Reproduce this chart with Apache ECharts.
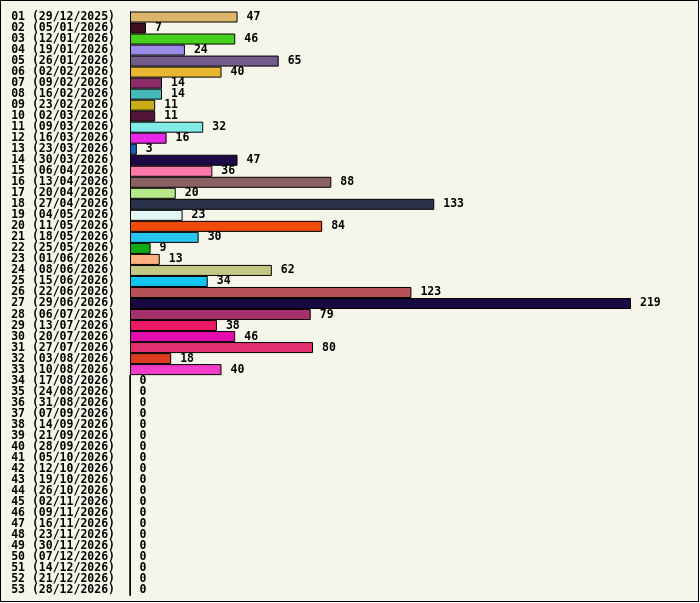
<!DOCTYPE html>
<html lang="en">
<head>
    <meta charset="UTF-8">
    <script src="https://cdn.jsdelivr.net/npm/echarts@6/dist/echarts.min.js"></script>
    <title>weeks</title>
    <style>
        body { margin: 0; background: #ffffff; }
        #frame { width: 699px; height: 602px; box-sizing: border-box; border: 1px solid #000; background: #f5f5e9; }
        #container { width: 697px; height: 600px; }
    </style>
</head>
<body>
<div id="frame"><div id="container"></div></div>

<script>
    // week labels (number + monday date)
    var weeks = [
        '01 (29/12/2025)', '02 (05/01/2026)', '03 (12/01/2026)', '04 (19/01/2026)', '05 (26/01/2026)',
        '06 (02/02/2026)', '07 (09/02/2026)', '08 (16/02/2026)', '09 (23/02/2026)', '10 (02/03/2026)',
        '11 (09/03/2026)', '12 (16/03/2026)', '13 (23/03/2026)', '14 (30/03/2026)', '15 (06/04/2026)',
        '16 (13/04/2026)', '17 (20/04/2026)', '18 (27/04/2026)', '19 (04/05/2026)', '20 (11/05/2026)',
        '21 (18/05/2026)', '22 (25/05/2026)', '23 (01/06/2026)', '24 (08/06/2026)', '25 (15/06/2026)',
        '26 (22/06/2026)', '27 (29/06/2026)', '28 (06/07/2026)', '29 (13/07/2026)', '30 (20/07/2026)',
        '31 (27/07/2026)', '32 (03/08/2026)', '33 (10/08/2026)', '34 (17/08/2026)', '35 (24/08/2026)',
        '36 (31/08/2026)', '37 (07/09/2026)', '38 (14/09/2026)', '39 (21/09/2026)', '40 (28/09/2026)',
        '41 (05/10/2026)', '42 (12/10/2026)', '43 (19/10/2026)', '44 (26/10/2026)', '45 (02/11/2026)',
        '46 (09/11/2026)', '47 (16/11/2026)', '48 (23/11/2026)', '49 (30/11/2026)', '50 (07/12/2026)',
        '51 (14/12/2026)', '52 (21/12/2026)', '53 (28/12/2026)'
    ];

    var counts = [
        47, 7, 46, 24, 65, 40, 14, 14, 11, 11,
        32, 16, 3, 47, 36, 88, 20, 133, 23, 84,
        30, 9, 13, 62, 34, 123, 219, 79, 38, 46,
        80, 18, 40, 0, 0, 0, 0, 0, 0, 0,
        0, 0, 0, 0, 0, 0, 0, 0, 0, 0,
        0, 0, 0
    ];

    var barColors = [
        '#ddb46b', '#3c0e1e', '#45d11c', '#9a8ce6', '#735c8a', '#e8b631', '#8e2a6a', '#45b8b8',
        '#c8ab16', '#521535', '#80eae6', '#e828e8', '#1565c0', '#1e0848', '#fc78a8', '#8a6060',
        '#b8e88a', '#28304a', '#e2f6f4', '#f24a08', '#28c4f0', '#10a818', '#ffb080', '#c4c884',
        '#10c4f0', '#b85058', '#180a40', '#a4306c', '#ec1a64', '#e40cac', '#e43070', '#dc3a1c',
        '#f03cc8'
    ];

    var font = '"DejaVu Sans Mono", "Liberation Mono", monospace';

    var dom = document.getElementById("container");
    var myChart = echarts.init(dom);

    var seriesData = [];
    for (let i = 0; i < counts.length; i++) {
        seriesData.push({
            value: counts[i],
            itemStyle: { color: barColors[i % barColors.length] }
        });
    }

    var option = {
        animation: false,
        grid: {
            left: 129,
            right: 67,
            top: 10.5,
            bottom: 5.5,
            containLabel: false
        },
        xAxis: {
            type: 'value',
            min: 0,
            max: 219,
            show: false
        },
        yAxis: {
            type: 'category',
            inverse: true,
            data: weeks,
            axisLine: { show: true, lineStyle: { color: '#000', width: 1 } },
            axisTick: { show: false },
            axisLabel: {
                interval: 0,
                margin: 15,
                padding: [2, 0, 0, 0],
                color: '#000',
                fontFamily: font,
                fontWeight: 'bold',
                fontSize: 11.5
            }
        },
        series: [{
            type: 'bar',
            data: seriesData,
            barCategoryGap: 0,
            itemStyle: { borderColor: '#000', borderWidth: 1 },
            label: {
                show: true,
                position: 'right',
                distance: 9,
                padding: [2, 0, 0, 0],
                color: '#000',
                fontFamily: font,
                fontWeight: 'bold',
                fontSize: 11.5
            }
        }]
    };

    myChart.setOption(option);
</script>
</body>
</html>
